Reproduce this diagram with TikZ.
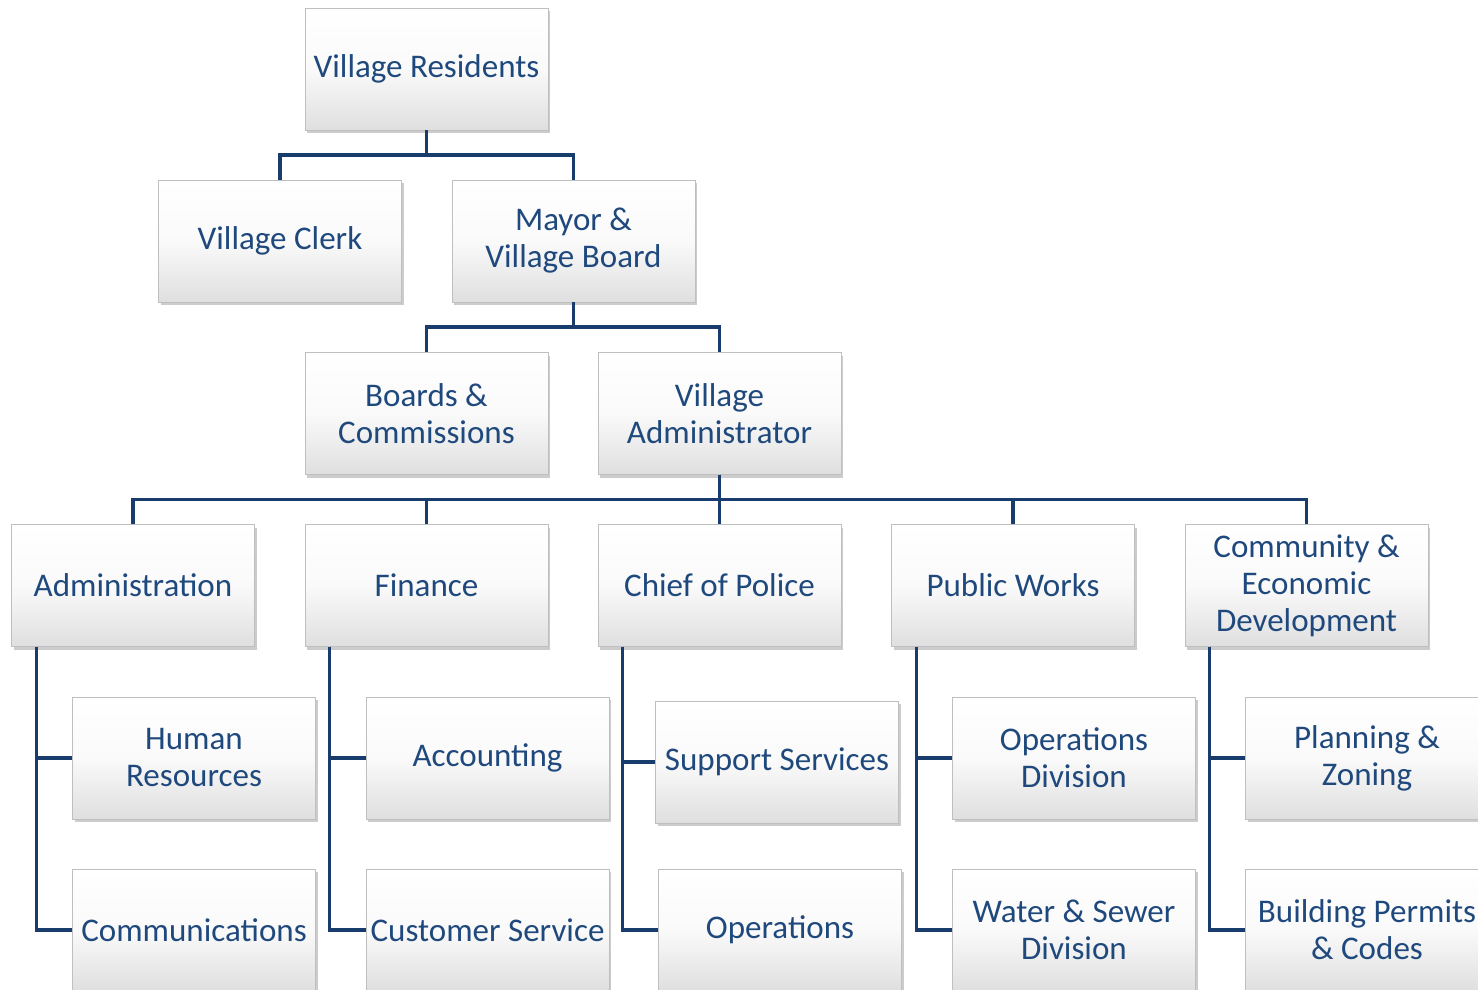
\documentclass[tikz,border=0pt]{standalone}
\usepackage{fontspec}
\setmainfont{Carlito}
\usetikzlibrary{shadows}
\definecolor{orgblue}{RGB}{31, 73, 125}
\definecolor{orgline}{RGB}{24, 60, 108}

\begin{document}
\begin{tikzpicture}[
        x=0.025cm, y=-0.025cm,
        unit/.style={draw=gray!50, thin, top color=white, bottom color=gray!25,
            middle color=white!96!gray, shading angle=0,
            drop shadow={shadow xshift=0.6mm, shadow yshift=-0.8mm, opacity=0.4, fill=gray},
            minimum width=6.07cm, minimum height=3.04cm, inner sep=1pt,
            align=center, text=orgblue, font=\fontsize{23.5}{26.3}\selectfont},
        link/.style={orgline, line width=2.3pt}
    ]
    \clip (0, 0) rectangle (1478, 990);
    \fill[white] (0, 0) rectangle (1478, 990);

    % === Top of the chart ===
    \node[unit] (res) at (426.5, 69) {Village Residents};
    \node[unit] (clerk) at (280, 241) {Village Clerk};
    \node[unit] (mayor) at (573.5, 241) {Mayor \&\\Village Board};
    \node[unit] (boards) at (426.5, 413.5) {Boards \&\\Commissions};
    \node[unit] (admin) at (719.5, 413.5) {Village\\Administrator};

    \draw[link] (res.south) -- ++(0, 25) -| (clerk.north);
    \draw[link] (res.south) -- ++(0, 25) -| (mayor.north);
    \draw[link] (mayor.south) -- ++(0, 25) -| (boards.north);
    \draw[link] (mayor.south) -- ++(0, 25) -| (admin.north);

    % === Departments ===
    \node[unit] (adm) at (133, 585.5) {Administration};
    \node[unit] (fin) at (426.5, 585.5) {Finance};
    \node[unit] (pol) at (719.5, 585.5) {Chief of Police};
    \node[unit] (pw) at (1013, 585.5) {Public Works};
    \node[unit] (ced) at (1306.5, 585.5) {Community \&\\Economic\\Development};

    \foreach \d in {adm, fin, pol, pw, ced}
        \draw[link] (admin.south) -- ++(0, 25) -| (\d.north);

    % === Divisions ===
    \node[unit] (hr) at (194, 758) {Human\\Resources};
    \node[unit] (comm) at (194, 930) {Communications};
    \node[unit] (acct) at (487.5, 758) {Accounting};
    \node[unit] (cust) at (487.5, 930) {Customer Service};
    \node[unit] (supp) at (777, 762) {Support Services};
    \node[unit] (ops) at (780, 930) {Operations};
    \node[unit] (opdiv) at (1074, 758) {Operations\\Division};
    \node[unit] (water) at (1074, 930) {Water \& Sewer\\Division};
    \node[unit] (plan) at (1367, 758) {Planning \&\\Zoning};
    \node[unit] (bldg) at (1367, 930) {Building Permits\\\& Codes};

    \draw[link] (adm.south west) ++(25, 0) |- (hr.west);
    \draw[link] (adm.south west) ++(25, 0) |- (comm.west);
    \draw[link] (fin.south west) ++(25, 0) |- (acct.west);
    \draw[link] (fin.south west) ++(25, 0) |- (cust.west);
    \draw[link] (pol.south west) ++(25, 0) |- (supp.west);
    \draw[link] (pol.south west) ++(25, 0) |- (ops.west);
    \draw[link] (pw.south west) ++(25, 0) |- (opdiv.west);
    \draw[link] (pw.south west) ++(25, 0) |- (water.west);
    \draw[link] (ced.south west) ++(25, 0) |- (plan.west);
    \draw[link] (ced.south west) ++(25, 0) |- (bldg.west);

\end{tikzpicture}
\end{document}
